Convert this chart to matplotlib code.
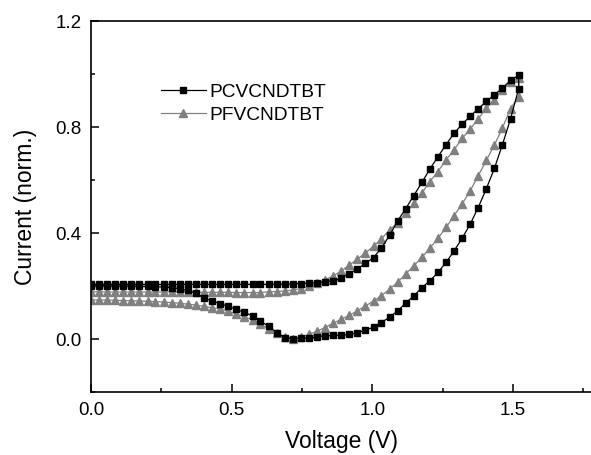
import matplotlib
matplotlib.use("Agg")
import matplotlib.pyplot as plt
from matplotlib.ticker import MultipleLocator

plt.rcParams['font.family'] = ['Liberation Sans', 'DejaVu Sans']

# scan voltages (V), forward sweep 0 -> 1.52 V; reverse sweep goes back
volts = [0.000, 0.029, 0.057, 0.086, 0.115, 0.143, 0.172, 0.201, 0.229, 0.258,
         0.287, 0.315, 0.344, 0.373, 0.401, 0.430, 0.459, 0.487, 0.516, 0.545,
         0.574, 0.602, 0.631, 0.660, 0.688, 0.717, 0.746, 0.774, 0.803, 0.832,
         0.860, 0.889, 0.918, 0.946, 0.975, 1.004, 1.032, 1.061, 1.090, 1.118,
         1.147, 1.176, 1.204, 1.233, 1.262, 1.290, 1.319, 1.348, 1.376, 1.405,
         1.434, 1.462, 1.491, 1.520]

# PCVCNDTBT, forward sweep (same order as volts)
pcv_fwd = [0.205, 0.205, 0.205, 0.205, 0.205, 0.205, 0.205, 0.205, 0.205, 0.205,
           0.205, 0.205, 0.205, 0.205, 0.205, 0.205, 0.205, 0.205, 0.205, 0.205,
           0.205, 0.205, 0.205, 0.206, 0.206, 0.207, 0.208, 0.210, 0.212, 0.214,
           0.218, 0.229, 0.246, 0.263, 0.284, 0.306, 0.342, 0.390, 0.445, 0.490,
           0.540, 0.590, 0.640, 0.687, 0.733, 0.775, 0.810, 0.840, 0.868, 0.896,
           0.921, 0.946, 0.975, 0.995]
# PCVCNDTBT, reverse sweep (same order as volts, i.e. read from 0 V upwards)
pcv_rev = [0.199, 0.199, 0.199, 0.198, 0.198, 0.198, 0.197, 0.197, 0.196, 0.195,
           0.192, 0.188, 0.182, 0.172, 0.153, 0.143, 0.132, 0.122, 0.111, 0.099,
           0.086, 0.066, 0.047, 0.023, 0.004, 0.000, 0.001, 0.003, 0.006, 0.010,
           0.012, 0.013, 0.016, 0.023, 0.031, 0.044, 0.061, 0.081, 0.105, 0.134,
           0.161, 0.193, 0.218, 0.250, 0.288, 0.331, 0.379, 0.433, 0.495, 0.566,
           0.644, 0.732, 0.830, 0.944]

# PFVCNDTBT, forward sweep
pfv_fwd = [0.177, 0.177, 0.176, 0.176, 0.176, 0.176, 0.176, 0.176, 0.176, 0.176,
           0.176, 0.176, 0.176, 0.175, 0.175, 0.175, 0.175, 0.175, 0.174, 0.174,
           0.174, 0.174, 0.177, 0.178, 0.180, 0.184, 0.189, 0.197, 0.209, 0.222,
           0.237, 0.255, 0.278, 0.300, 0.324, 0.349, 0.377, 0.410, 0.438, 0.473,
           0.511, 0.550, 0.593, 0.631, 0.675, 0.713, 0.756, 0.792, 0.830, 0.870,
           0.902, 0.939, 0.970, 0.983]
# PFVCNDTBT, reverse sweep
pfv_rev = [0.147, 0.146, 0.146, 0.145, 0.144, 0.143, 0.142, 0.141, 0.140, 0.138,
           0.136, 0.134, 0.130, 0.127, 0.122, 0.117, 0.112, 0.104, 0.093, 0.082,
           0.071, 0.055, 0.038, 0.020, 0.008, 0.000, 0.006, 0.016, 0.028, 0.042,
           0.058, 0.073, 0.088, 0.105, 0.123, 0.142, 0.162, 0.187, 0.213, 0.244,
           0.275, 0.307, 0.341, 0.379, 0.420, 0.464, 0.509, 0.559, 0.615, 0.673,
           0.732, 0.795, 0.869, 0.913]

# full cycle: forward then back down
v_cycle = volts + volts[::-1]
pcv = pcv_fwd + pcv_rev[::-1]
pfv = pfv_fwd + pfv_rev[::-1]

fig = plt.figure(figsize=(5.91, 4.56), dpi=100)
ax = fig.add_axes([0.154, 0.139, 0.846, 0.813])

ax.plot(v_cycle, pcv, color='black', lw=0.9, marker='s', ms=4.8,
        label='PCVCNDTBT', zorder=3)
ax.plot(v_cycle, pfv, color='#808080', lw=0.9, marker='^', ms=6,
        label='PFVCNDTBT', zorder=2)

ax.set_xlim(0, 1.777)
ax.set_ylim(-0.2, 1.2)
ax.xaxis.set_major_locator(MultipleLocator(0.5))
ax.xaxis.set_minor_locator(MultipleLocator(0.25))
ax.yaxis.set_major_locator(MultipleLocator(0.4))
ax.yaxis.set_minor_locator(MultipleLocator(0.2))
ax.set_xticks([0.0, 0.5, 1.0, 1.5])
ax.set_yticks([0.0, 0.4, 0.8, 1.2])
ax.tick_params(which='both', direction='in', labelsize=13.5, width=1.1)
ax.tick_params(which='major', length=5.5, pad=7)
ax.tick_params(which='minor', length=3)
ax.spines['right'].set_visible(False)
for s in ['left', 'bottom', 'top']:
    ax.spines[s].set_linewidth(1.2)

ax.set_xlabel('Voltage (V)', fontsize=16.5, labelpad=8)
ax.set_ylabel('Current (norm.)', fontsize=16.5, labelpad=13)

ax.legend(loc='upper left', bbox_to_anchor=(0.272, 0.816), bbox_transform=fig.transFigure,
          frameon=False, fontsize=13.8, handlelength=2.35, handletextpad=0.2,
          labelspacing=0.3, borderaxespad=0, borderpad=0)

fig.savefig('out.png', dpi=100)
